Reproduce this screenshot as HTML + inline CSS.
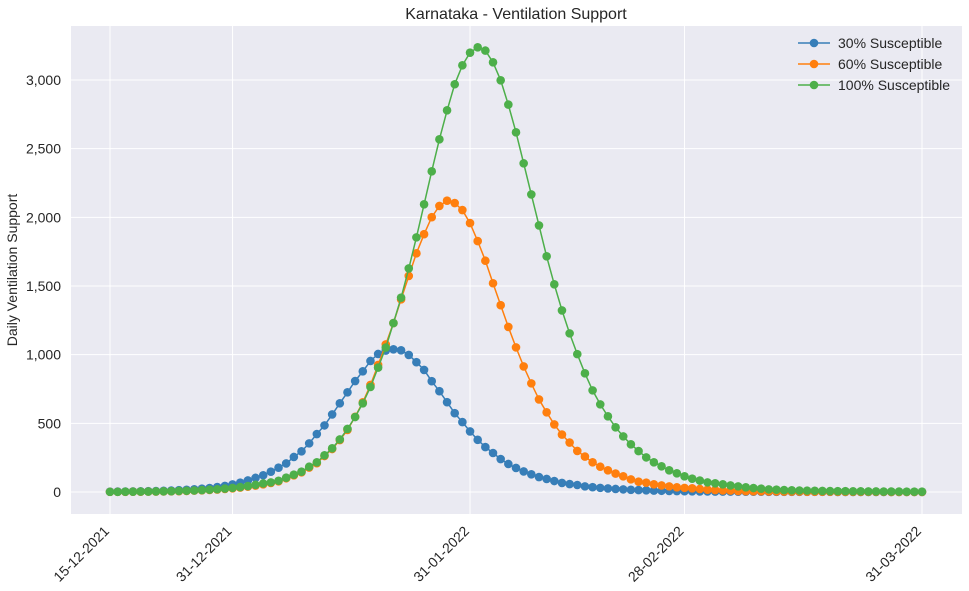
<!DOCTYPE html>
<html><head><meta charset="utf-8"><style>
body{margin:0;background:#fff;}
svg{display:block;font-family:"Liberation Sans","DejaVu Sans",sans-serif;}
</style></head><body>
<svg id="chart" width="969" height="591" xmlns="http://www.w3.org/2000/svg">
<rect x="71" y="26" width="891" height="488" fill="#eaeaf2"/>
<g id="grid"></g>
<g id="series"></g>
<g id="ticks"></g>
<text x="516" y="19" text-anchor="middle" font-size="16" fill="#262626">Karnataka - Ventilation Support</text>
<text transform="translate(17,270) rotate(-90)" text-anchor="middle" font-size="14" fill="#262626">Daily Ventilation Support</text>
<g id="legend"></g>
</svg>
<script>
const seriesNames = ["30% Susceptible","60% Susceptible","100% Susceptible"];
const seriesColors = ["#377eb8","#ff7f0e","#4daf4a"];
const yTicks = [0,500,1000,1500,2000,2500,3000];
const yTickLabels = ["0","500","1,000","1,500","2,000","2,500","3,000"];
const xTickDays = [0,16,47,75,106];
const xTickLabels = ["15-12-2021","31-12-2021","31-01-2022","28-02-2022","31-03-2022"];
const blue = [2,3,3,4,5,6,7,9,11,13,16,20,24,29,36,44,55,68,84,103,122,148,
177,208,255,296,354,422,485,565,646,726,808,879,954,1005,1030,1039,1032,998,945,889,807,734,654,574,509,441,380,327,284,240,204,175,150,129,109,95,80,66,58,51,
41,35,30,26,22,19,16,14,12,10,9,8,7,6,5,4,4,3,3,3,2,2,2,2,1,1,1,1,1,1,1,1,1,0,0,0,0,0,0,0,0,0,0,0,0];
const orange = [1,1,1,2,2,3,3,4,5,6,8,10,12,15,18,22,27,32,39,47,56,66,
78,100,121,143,178,210,262,313,378,452,548,653,780,925,1075,1230,1403,1573,1738,1877,2001,2083,2121,2104,2053,1958,1827,1684,1520,1360,1202,1053,914,791,674,580,492,418,360,299,
258,216,184,158,134,114,92,75,68,56,48,41,34,30,27,22,17,14,11,10,7,6,5,5,4,4,3,3,3,2,2,2,2,1,1,1,1,1,1,1,0,0,0,0,0];
const green = [1,1,2,2,3,3,4,5,6,8,9,11,14,17,20,25,30,36,43,52,62,70,
82,104,126,148,184,216,267,318,383,459,546,646,765,906,1052,1230,1415,1628,1854,2095,2335,2568,2779,2969,3107,3199,3238,3214,3129,2998,2821,2619,2393,2167,1941,1716,1512,1322,1155,1004,
864,740,638,551,471,405,347,298,252,216,187,158,136,114,97,83,70,63,56,48,41,34,29,24,19,17,14,12,11,10,9,8,7,6,6,5,5,4,4,3,3,3,2,2,2];

const NS="http://www.w3.org/2000/svg";
function xScale(d){return 110 + d*(812/106);}
function yScale(v){return 492 - v*(412/3000);}
function mk(tag,attrs,parent){const e=document.createElementNS(NS,tag);for(const k in attrs)e.setAttribute(k,attrs[k]);parent.appendChild(e);return e;}

const grid=document.getElementById('grid'), ticks=document.getElementById('ticks');
yTicks.forEach((v,i)=>{
  const l=mk('line',{x1:71,x2:962,y1:yScale(v),y2:yScale(v),stroke:'#fff','stroke-width':1},grid);
  
  
  const t=mk('text',{x:61,y:yScale(v)+5,'text-anchor':'end','font-size':14,fill:'#262626'},ticks);
  
  
  t.textContent=yTickLabels[i];
});
xTickDays.forEach((d,i)=>{
  const l=mk('line',{x1:xScale(d),x2:xScale(d),y1:26,y2:514,stroke:'#fff','stroke-width':1},grid);
  
  
  const t=mk('text',{x:0,y:0,'text-anchor':'end','font-size':14,fill:'#262626',transform:`translate(${xScale(d)},${532}) rotate(-45)`},ticks);
  
  
  t.textContent=xTickLabels[i];
});
const sg=document.getElementById('series');
[blue,orange,green].forEach((arr,s)=>{
  const g=mk('g',{},sg);
  
  
  const pts=arr.map((v,d)=>xScale(d).toFixed(1)+','+yScale(v).toFixed(1)).join(' ');
  const pl=mk('polyline',{points:pts,fill:'none',stroke:seriesColors[s],'stroke-width':1.5},g);
  
  
  arr.forEach((v,d)=>{
    const c=mk('circle',{cx:xScale(d),cy:yScale(v),r:4.3,fill:seriesColors[s]},g);
    
    
  });
});
const lg=document.getElementById('legend');
seriesNames.forEach((n,i)=>{
  const y=43+i*21;
  const g=mk('g',{},lg);
  
  
  mk('line',{x1:798,x2:830,y1:y,y2:y,stroke:seriesColors[i],'stroke-width':1.5},g);
  mk('circle',{cx:814,cy:y,r:4.3,fill:seriesColors[i]},g);
  const t=mk('text',{x:838,y:y+5,'font-size':14,fill:'#262626'},g);
  t.textContent=n;
});
</script>
</body></html>
